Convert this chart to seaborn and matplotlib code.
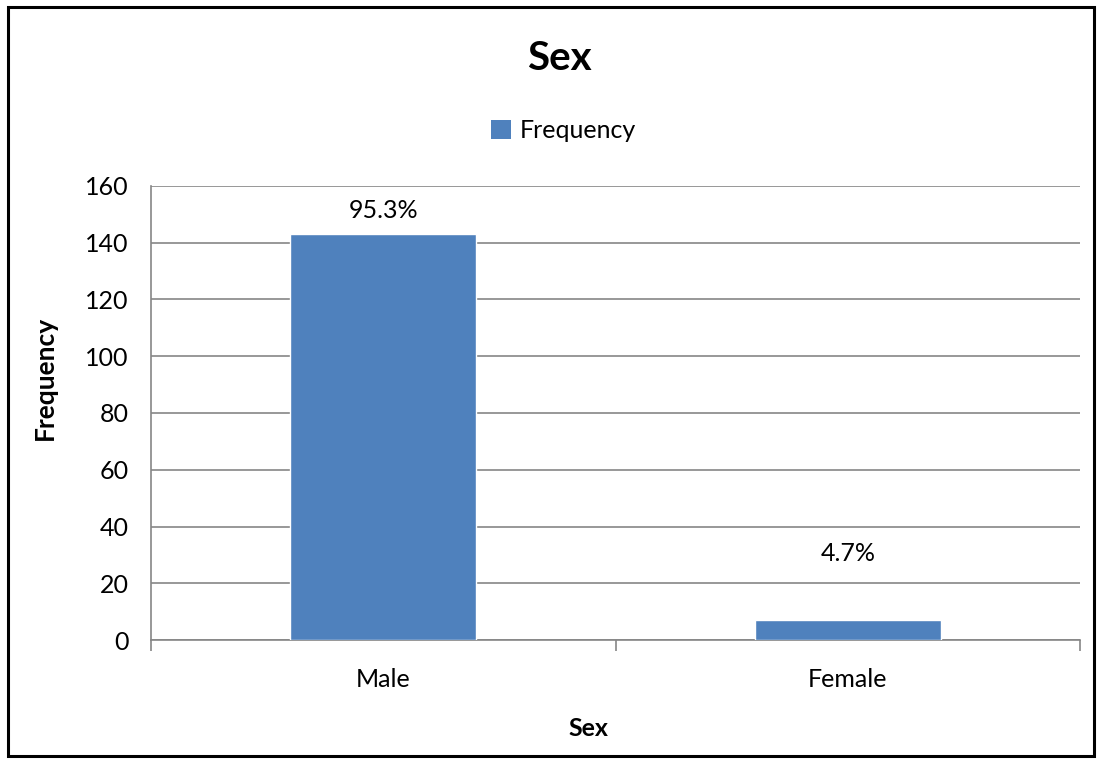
import matplotlib
matplotlib.use("Agg")
import matplotlib.pyplot as plt
import seaborn as sns
import pandas as pd
from matplotlib.patches import Rectangle, Patch

categories = ["Male", "Female"]
frequency = [143, 7]
pct_labels = ["95.3%", "4.7%"]
label_heights = [151.5, 30.5]
yticks = [0, 20, 40, 60, 80, 100, 120, 140, 160]

sns.set_theme(style="white")
plt.rcParams['font.family'] = ['Lato', 'DejaVu Sans']

df = pd.DataFrame({"Sex": categories, "Frequency": frequency})

fig = plt.figure(figsize=(10.99, 7.62), dpi=100)
ax = fig.add_axes([151/1099, 1-640/762, (1080-151)/1099, (640-186)/762])

bar_color = "#4F81BD"
grid_color = "#868686"

sns.barplot(data=df, x="Sex", y="Frequency", color=bar_color, width=0.4,
            saturation=1, ax=ax, zorder=3)

ax.set_xlim(-0.5, 1.5)
ax.set_ylim(0, 160)
ax.set_yticks(yticks)
ax.set_yticklabels([str(v) for v in yticks], fontsize=18, color="black")
ax.yaxis.grid(True, color=grid_color, linewidth=1.2, zorder=0)
ax.set_axisbelow(True)
ax.tick_params(axis="y", length=8, width=1.2, color=grid_color, pad=8)
ax.set_xticks([0, 1])
ax.set_xticklabels(categories, fontsize=18, color="black")
ax.set_xticks([-0.5, 0.5, 1.5], minor=True)
ax.tick_params(axis="x", which="major", length=0, pad=20)
ax.tick_params(axis="x", which="minor", length=8, width=1.2, color=grid_color, direction="out", bottom=True)
ax.set_xlabel("")
ax.set_ylabel("")
for side in ["top", "right"]:
    ax.spines[side].set_visible(False)
for side in ["left", "bottom"]:
    ax.spines[side].set_color(grid_color)
    ax.spines[side].set_linewidth(1.2)

for i, (lab, h) in enumerate(zip(pct_labels, label_heights)):
    ax.text(i, h, lab, ha="center", va="center", fontsize=18, color="black")

fig.text(559/1099, 1-58/762, "Sex", ha="center", va="center", fontsize=29, fontweight="bold", color="black")
fig.text(588/1099, 1-728/762, "Sex", ha="center", va="center", fontsize=18, fontweight="bold", color="black")
fig.text(45/1099, 1-378/762, "Frequency", ha="center", va="center", rotation=90, fontsize=19, fontweight="bold", color="black")

handles = [Patch(facecolor=bar_color, edgecolor="none", label="Frequency")]
fig.legend(handles=handles, loc="center", bbox_to_anchor=(563/1099, 1-131/762), frameon=False,
           fontsize=18, handlelength=0.8, handleheight=0.8, handletextpad=0.35, labelcolor="black")

fig.patches.append(Rectangle((8/1099, 1-756/762), (1094-8)/1099, (756-7)/762, transform=fig.transFigure,
                             fill=False, edgecolor="black", linewidth=2.2))

fig.savefig("out.png", dpi=100)
